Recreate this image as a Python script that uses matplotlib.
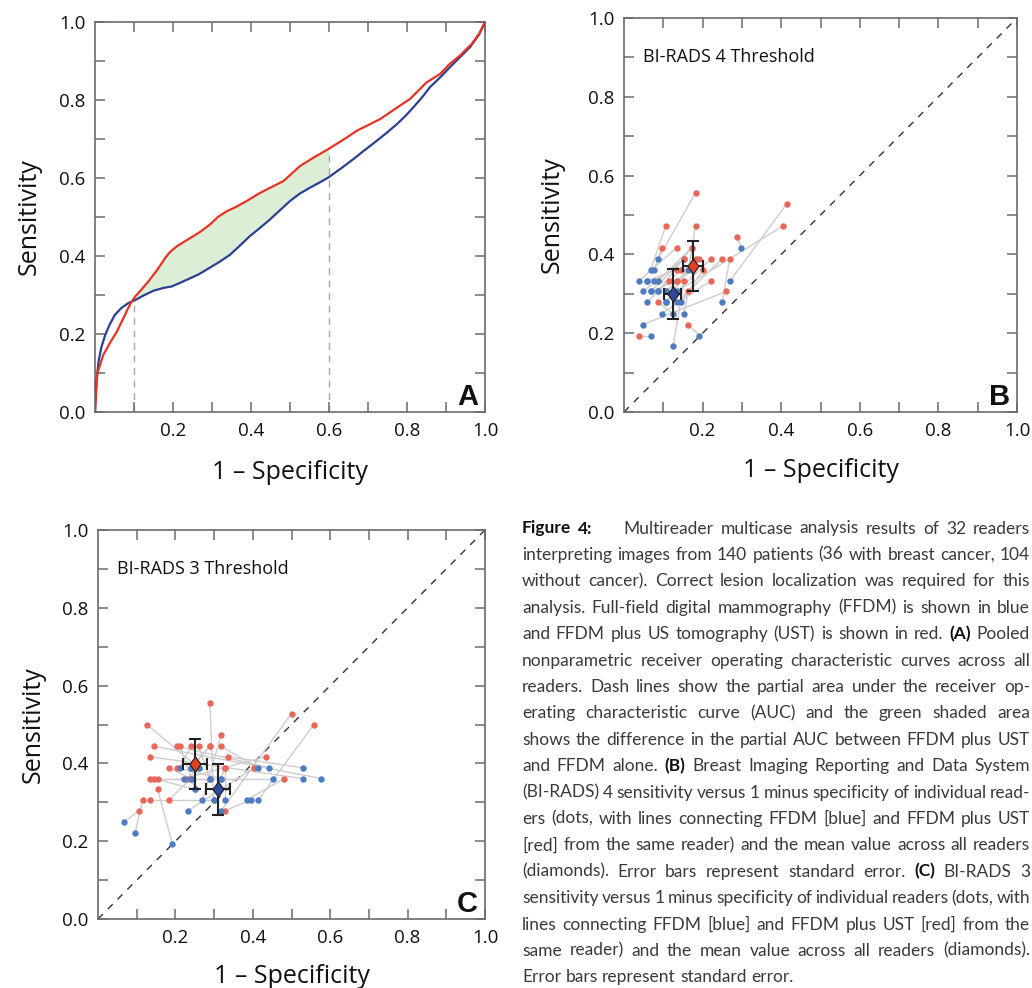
"""Figure 4 recreation: pooled ROC curves (A) and reader operating points (B, C)."""

import matplotlib
matplotlib.use("Agg")
import matplotlib.pyplot as plt
import numpy as np
from matplotlib.path import Path
from matplotlib.ticker import FormatStrFormatter

W, H = 1032, 988

# ---- panel A: pooled nonparametric ROC curves ----
roc_fpr_ust = [0, 0.006, 0.021, 0.040, 0.056, 0.070, 0.081, 0.092, 0.103, 0.120, 0.137,
               0.160, 0.180, 0.192, 0.210, 0.244, 0.270, 0.295, 0.315, 0.338, 0.360,
               0.389, 0.420, 0.449, 0.483, 0.505, 0.526, 0.560, 0.598, 0.635, 0.671,
               0.731, 0.756, 0.808, 0.850, 0.885, 0.910, 0.936, 0.966, 0.985, 1.0]
roc_sens_ust = [0, 0.099, 0.146, 0.180, 0.206, 0.235, 0.258, 0.280, 0.296, 0.315, 0.335,
                0.365, 0.395, 0.410, 0.425, 0.446, 0.462, 0.481, 0.500, 0.515, 0.525,
                0.541, 0.560, 0.575, 0.592, 0.612, 0.631, 0.652, 0.674, 0.697, 0.721,
                0.751, 0.768, 0.803, 0.845, 0.867, 0.893, 0.914, 0.944, 0.970, 1.0]
roc_fpr_ffdm = [0, 0.003, 0.009, 0.016, 0.026, 0.038, 0.051, 0.068, 0.085, 0.103, 0.125,
                0.150, 0.175, 0.197, 0.220, 0.244, 0.266, 0.286, 0.316, 0.346, 0.372,
                0.397, 0.423, 0.449, 0.475, 0.500, 0.525, 0.551, 0.575, 0.598, 0.630,
                0.662, 0.692, 0.722, 0.748, 0.774, 0.796, 0.816, 0.838, 0.859, 0.885,
                0.910, 0.936, 0.962, 0.985, 1.0]
roc_sens_ffdm = [0, 0.070, 0.129, 0.165, 0.197, 0.225, 0.249, 0.267, 0.279, 0.287, 0.299,
                 0.311, 0.318, 0.322, 0.332, 0.343, 0.353, 0.365, 0.383, 0.403, 0.427,
                 0.451, 0.472, 0.494, 0.518, 0.541, 0.560, 0.575, 0.588, 0.601, 0.624,
                 0.648, 0.672, 0.695, 0.716, 0.738, 0.759, 0.781, 0.806, 0.833, 0.858,
                 0.884, 0.910, 0.936, 0.968, 1.0]
partial_range = (0.1, 0.6)

# ---- panel B: BI-RADS 4 threshold, one entry per reader ----
b4_ffdm_fpr = [0.298, 0.087, 0.068, 0.077, 0.164, 0.038, 0.058, 0.077, 0.270, 0.048, 0.068,
               0.087, 0.107, 0.134, 0.058, 0.107, 0.134, 0.144, 0.250, 0.096, 0.125, 0.153,
               0.048, 0.068, 0.192, 0.125, 0.107, 0.087, 0.107, 0.087, 0.068, 0.058]
b4_ffdm_sens = [0.417, 0.389, 0.361, 0.361, 0.361, 0.333, 0.333, 0.333, 0.333, 0.306, 0.306,
                0.306, 0.306, 0.306, 0.278, 0.278, 0.278, 0.278, 0.278, 0.250, 0.250, 0.250,
                0.222, 0.194, 0.194, 0.167, 0.278, 0.306, 0.306, 0.333, 0.306, 0.333]
b4_ust_fpr = [0.288, 0.182, 0.106, 0.096, 0.182, 0.134, 0.134, 0.087, 0.414, 0.153, 0.134,
              0.172, 0.192, 0.404, 0.115, 0.221, 0.250, 0.202, 0.269, 0.221, 0.087, 0.163,
              0.260, 0.038, 0.163, 0.153, 0.182, 0.144, 0.172, 0.172, 0.153, 0.134]
b4_ust_sens = [0.444, 0.556, 0.472, 0.417, 0.472, 0.417, 0.361, 0.333, 0.528, 0.389, 0.333,
               0.417, 0.389, 0.472, 0.333, 0.389, 0.389, 0.361, 0.389, 0.333, 0.278, 0.306,
               0.306, 0.194, 0.222, 0.333, 0.389, 0.361, 0.361, 0.417, 0.389, 0.333]
b4_mean_fpr = [0.124, 0.176]      # FFDM, FFDM + UST
b4_mean_sens = [0.299, 0.371]
b4_se_fpr = [0.021, 0.025]
b4_se_sens = [0.063, 0.063]

# ---- panel C: BI-RADS 3 threshold ----
b3_ffdm_fpr = [0.299, 0.318, 0.260, 0.414, 0.270, 0.577, 0.443, 0.251, 0.212, 0.289, 0.240,
               0.414, 0.529, 0.529, 0.222, 0.240, 0.318, 0.327, 0.232, 0.451, 0.384, 0.395,
               0.192, 0.096, 0.067, 0.251, 0.289, 0.260, 0.299, 0.240, 0.240, 0.318]
b3_ffdm_sens = [0.306, 0.278, 0.389, 0.306, 0.306, 0.361, 0.389, 0.333, 0.389, 0.361, 0.389,
                0.389, 0.361, 0.389, 0.361, 0.361, 0.361, 0.306, 0.278, 0.361, 0.306, 0.306,
                0.194, 0.222, 0.250, 0.333, 0.361, 0.389, 0.306, 0.361, 0.389, 0.361]
b3_ust_fpr = [0.289, 0.500, 0.126, 0.558, 0.318, 0.145, 0.203, 0.212, 0.240, 0.260, 0.289,
              0.318, 0.135, 0.337, 0.433, 0.183, 0.203, 0.327, 0.404, 0.135, 0.481, 0.327,
              0.154, 0.115, 0.107, 0.145, 0.154, 0.231, 0.135, 0.183, 0.289, 0.327]
b3_ust_sens = [0.556, 0.528, 0.500, 0.500, 0.472, 0.444, 0.444, 0.444, 0.444, 0.444, 0.444,
               0.444, 0.417, 0.417, 0.417, 0.389, 0.389, 0.389, 0.389, 0.361, 0.361, 0.278,
               0.333, 0.306, 0.278, 0.361, 0.361, 0.361, 0.306, 0.306, 0.444, 0.389]
b3_mean_fpr = [0.309, 0.251]
b3_mean_sens = [0.333, 0.399]
b3_se_fpr = [0.031, 0.031]
b3_se_sens = [0.065, 0.065]

caption_lines = [
    "Figure 4: Multireader multicase analysis results of 32 readers",
    "interpreting images from 140 patients (36 with breast cancer, 104",
    "without cancer). Correct lesion localization was required for this",
    "analysis. Full-field digital mammography (FFDM) is shown in blue",
    "and FFDM plus US tomography (UST) is shown in red. (A) Pooled",
    "nonparametric receiver operating characteristic curves across all",
    "readers. Dash lines show the partial area under the receiver op-",
    "erating characteristic curve (AUC) and the green shaded area",
    "shows the difference in the partial AUC between FFDM plus UST",
    "and FFDM alone. (B) Breast Imaging Reporting and Data System",
    "(BI-RADS) 4 sensitivity versus 1 minus specificity of individual read-",
    "ers (dots, with lines connecting FFDM [blue] and FFDM plus UST",
    "[red] from the same reader) and the mean value across all readers",
    "(diamonds). Error bars represent standard error. (C) BI-RADS 3",
    "sensitivity versus 1 minus specificity of individual readers (dots, with",
    "lines connecting FFDM [blue] and FFDM plus UST [red] from the",
    "same reader) and the mean value across all readers (diamonds).",
    "Error bars represent standard error.",
]
bold_words = {"Figure", "4:", "(A)", "(B)", "(C)"}

SPINE = "#6b6b6b"
RED_LINE, BLUE_LINE = "#e63323", "#2b3f94"
RED_DOT, BLUE_DOT = "#e8665a", "#4f7cc0"
RED_MEAN, BLUE_MEAN = "#e2401f", "#2e4a96"
AX_FONT = "Open Sans"
CAP_FONT = "Lato"

DIAMOND = Path([(0, 1), (0.72, 0), (0, -1), (-0.72, 0), (0, 1)],
               [Path.MOVETO, Path.LINETO, Path.LINETO, Path.LINETO, Path.CLOSEPOLY])


def px_box(left, top, right, bottom):
    return [left / W, (H - bottom) / H, (right - left) / W, (bottom - top) / H]


def style_panel(ax, letter, ylab_off, xlab_off):
    ax.set_xlim(0, 1)
    ax.set_ylim(0, 1)
    ax.set_xticks([0.2, 0.4, 0.6, 0.8, 1.0])
    ax.set_xticks([0.1, 0.3, 0.5, 0.7, 0.9], minor=True)
    ax.set_yticks([0.0, 0.2, 0.4, 0.6, 0.8, 1.0])
    ax.set_yticks([0.1, 0.3, 0.5, 0.7, 0.9], minor=True)
    ax.xaxis.set_major_formatter(FormatStrFormatter("%.1f"))
    ax.yaxis.set_major_formatter(FormatStrFormatter("%.1f"))
    ax.tick_params(which="both", direction="in", length=7, width=1.1, color=SPINE,
                   top=True, right=True, pad=7, labelsize=13.5, labelcolor="#111111")
    for lab in ax.get_xticklabels() + ax.get_yticklabels():
        lab.set_family(AX_FONT)
    for spine in ax.spines.values():
        spine.set_color(SPINE)
        spine.set_linewidth(1.2)
    w_px = ax.get_position().width * W
    h_px = ax.get_position().height * H
    ax.set_xlabel("1 – Specificity", fontsize=18, family=AX_FONT, color="#111111")
    ax.set_ylabel("Sensitivity", fontsize=18, family=AX_FONT, color="#111111")
    ax.xaxis.label.set_va("center")
    ax.yaxis.label.set_va("center")
    ax.xaxis.set_label_coords(0.5, -xlab_off / h_px)
    ax.yaxis.set_label_coords(-ylab_off / w_px, 0.5)
    ax.text(1 - 7 / w_px, 7 / h_px, letter, transform=ax.transAxes, ha="right",
            va="baseline", fontsize=21, fontweight="bold", family="Liberation Sans",
            color="#111111")


def reader_panel(ax, ffdm_x, ffdm_y, ust_x, ust_y, mean_x, mean_y, se_x, se_y, title):
    ax.plot([0, 1], [0, 1], color="#333333", lw=1, dashes=(5, 5), zorder=1)
    for bx, by, rx, ry in zip(ffdm_x, ffdm_y, ust_x, ust_y):
        ax.plot([bx, rx], [by, ry], color="#cdcdcd", lw=1, zorder=2)
    ax.plot(ust_x, ust_y, "o", ms=4.6, color=RED_DOT, mec="none", zorder=3)
    ax.plot(ffdm_x, ffdm_y, "o", ms=4.6, color=BLUE_DOT, mec="none", zorder=3)
    ax.errorbar(mean_x, mean_y, xerr=se_x, yerr=se_y, fmt="none", ecolor="#222222",
                elinewidth=1.5, capsize=4, capthick=1.5, zorder=4)
    for mx, my, fc in zip(mean_x, mean_y, [BLUE_MEAN, RED_MEAN]):
        ax.plot(mx, my, marker=DIAMOND, ms=11, mfc=fc, mec="#1e1e1e", mew=0.8, zorder=5)
    ax.text(0.048, 0.9, title, transform=ax.transAxes, ha="left", va="center",
            fontsize=13, family=AX_FONT, color="#111111")


def draw_caption(fig, lines, left, right, first_base, step):
    renderer = fig.canvas.get_renderer()
    base = 12.0
    extra_after = {(0, 1): 24.0}

    def width(word, bold, size):
        t = fig.text(0, 0, word, fontsize=size, family=CAP_FONT,
                     fontweight="bold" if bold else "normal")
        w = t.get_window_extent(renderer).width
        t.remove()
        return w

    space = width("a a", False, base) - width("aa", False, base)
    min_gap = 0.7 * space
    ratios = []
    for i, line in enumerate(lines[:-1]):
        words = line.split()
        nat = sum(width(w, w in bold_words, base) for w in words) + min_gap * (len(words) - 1)
        extra = sum(v for (li, _), v in extra_after.items() if li == i)
        ratios.append((right - left - extra) / nat)
    size = base * min(ratios) * 0.998
    space *= size / base

    for i, line in enumerate(lines):
        words = line.split()
        widths = [width(w, w in bold_words, size) for w in words]
        extra = sum(v for (li, _), v in extra_after.items() if li == i)
        if i < len(lines) - 1 and len(words) > 1:
            gap = (right - left - extra - sum(widths)) / (len(words) - 1)
        else:
            gap = space
        x = left
        y = first_base + step * i
        for j, (w, wd) in enumerate(zip(words, widths)):
            bold = w in bold_words
            fig.text(x / W, (H - y) / H, w, fontsize=size, family=CAP_FONT,
                     fontweight="bold" if bold else "normal",
                     color="#111111" if bold else "#3a3a3a", va="baseline", ha="left")
            x += wd + gap + extra_after.get((i, j), 0.0)


fig = plt.figure(figsize=(W / 100, H / 100), dpi=100)
ax_a = fig.add_axes(px_box(95, 22, 485, 412))
ax_b = fig.add_axes(px_box(624, 18, 1017, 412))
ax_c = fig.add_axes(px_box(98, 530, 485, 919))

# Panel A
lo, hi = partial_range
red_in = [(x, y) for x, y in zip(roc_fpr_ust, roc_sens_ust) if lo < x < hi]
blue_in = [(x, y) for x, y in zip(roc_fpr_ffdm, roc_sens_ffdm) if lo < x < hi]
red_lo, red_hi = np.interp([lo, hi], roc_fpr_ust, roc_sens_ust)
blue_lo, blue_hi = np.interp([lo, hi], roc_fpr_ffdm, roc_sens_ffdm)
poly_x = [lo] + [p[0] for p in red_in] + [hi, hi] + [p[0] for p in blue_in[::-1]] + [lo]
poly_y = [red_lo] + [p[1] for p in red_in] + [red_hi, blue_hi] + [p[1] for p in blue_in[::-1]] + [blue_lo]
ax_a.fill(poly_x, poly_y, color="#dcefd6", lw=0, zorder=1)
ax_a.plot([lo, lo], [0, min(red_lo, blue_lo)], color="#a8a8a8", lw=1, dashes=(5, 4), zorder=1)
ax_a.plot([hi, hi], [0, red_hi], color="#a8a8a8", lw=1, dashes=(5, 4), zorder=1)
ax_a.plot(roc_fpr_ffdm, roc_sens_ffdm, color=BLUE_LINE, lw=1.6, zorder=3,
          solid_joinstyle="round")
ax_a.plot(roc_fpr_ust, roc_sens_ust, color=RED_LINE, lw=1.6, zorder=3,
          solid_joinstyle="round")
style_panel(ax_a, "A", 66, 60)

reader_panel(ax_b, b4_ffdm_fpr, b4_ffdm_sens, b4_ust_fpr, b4_ust_sens,
             b4_mean_fpr, b4_mean_sens, b4_se_fpr, b4_se_sens, "BI-RADS 4 Threshold")
style_panel(ax_b, "B", 72, 58)

reader_panel(ax_c, b3_ffdm_fpr, b3_ffdm_sens, b3_ust_fpr, b3_ust_sens,
             b3_mean_fpr, b3_mean_sens, b3_se_fpr, b3_se_sens, "BI-RADS 3 Threshold")
style_panel(ax_c, "C", 65, 57)

draw_caption(fig, caption_lines, 522, 1030, 533.5, 26.4)

fig.savefig("out.png", dpi=100)
